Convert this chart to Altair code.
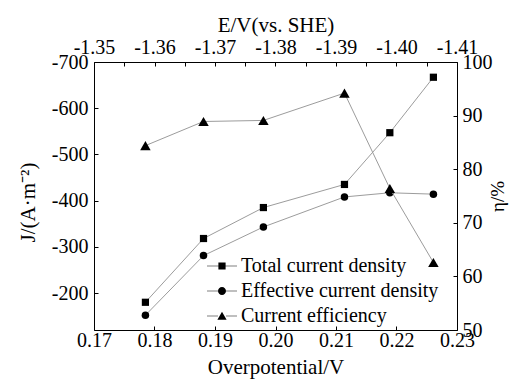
import altair as alt
import pandas as pd

# ---- data ----
overpotential = [0.1785, 0.1881, 0.1980, 0.2114, 0.2189, 0.2261]
total_J = [-180, -318, -385, -435, -547, -667]
effective_J = [-152, -281, -343, -408, -417, -414]
efficiency = [84.4, 88.9, 89.1, 94.2, 76.4, 62.6]
series_names = ["Total current density", "Effective current density", "Current efficiency"]

x_ticks = [0.17, 0.175, 0.18, 0.185, 0.19, 0.195, 0.20, 0.205, 0.21, 0.215, 0.22, 0.225, 0.23]
e_ticks = [-1.35, -1.355, -1.36, -1.365, -1.37, -1.375, -1.38, -1.385, -1.39, -1.395, -1.40, -1.405, -1.41]
j_ticks = [-700, -650, -600, -550, -500, -450, -400, -350, -300, -250, -200, -150]
eta_ticks = [50, 55, 60, 65, 70, 75, 80, 85, 90, 95, 100]

FONT = "Liberation Serif"
LINE = "#9c9c9c"

df_total = pd.DataFrame({"x": overpotential, "J": total_J, "series": series_names[0]})
df_eff = pd.DataFrame({"x": overpotential, "J": effective_J, "series": series_names[1]})
df_J = pd.concat([df_total, df_eff])
df_eta = pd.DataFrame({"x": overpotential, "eta": efficiency})
df_E = pd.DataFrame({"E": e_ticks})
df_leg = pd.DataFrame({"series": series_names})

MINUS_FIX = "replace({f}, '\u2212', '-')"

common = dict(
    tickSize=4, offset=-4, domain=False, grid=False, labelFlush=False,
    labelFont=FONT, titleFont=FONT, labelFontSize=20,
    labelColor="black", titleColor="black", tickColor="black",
    titleFontWeight="normal", tickWidth=1,
)

x_scale = alt.Scale(domain=[0.17, 0.23], nice=False, zero=False)

x_axis = alt.Axis(
    orient="bottom", values=x_ticks,
    labelExpr="abs(datum.value*100 - round(datum.value*100)) < 0.01 ? format(datum.value, '.2f') : ''",
    labelPadding=0, title="Overpotential/V", titlePadding=6, titleFontSize=21, **common,
)
j_axis = alt.Axis(
    orient="left", values=j_ticks,
    labelExpr="datum.value % 100 == 0 ? " + MINUS_FIX.format(f="format(datum.value, 'd')") + " : ''",
    labelPadding=6, title="J/(A·m⁻²)", titleAngle=270, titleBaseline="middle",
    titleX=-70, titleY=140, titleFontSize=21, **common,
)
eta_axis = alt.Axis(
    orient="right", values=eta_ticks,
    labelExpr="datum.value % 10 == 0 ? format(datum.value, 'd') : ''",
    labelPadding=5, title="η/%", titleAngle=270, titleBaseline="middle",
    titleX=44, titleY=134, titleFontSize=19, **common,
)
e_axis = alt.Axis(
    orient="top", values=e_ticks,
    labelExpr="abs(datum.value*100 - round(datum.value*100)) < 0.01 ? "
    + MINUS_FIX.format(f="format(datum.value, '.2f')") + " : ''",
    labelPadding=5, title="E/V(vs. SHE)", titlePadding=2, titleFontSize=21, **common,
)

# legend symbols: thin connector bars with the marker in the middle
leg_paths = [
    "M-3.75,-0.06H-0.9V0.06H-3.75ZM0.9,-0.06H3.75V0.06H0.9ZM-0.9,-0.9H0.9V0.9H-0.9Z",
    "M-3.75,-0.06H-1V0.06H-3.75ZM1,-0.06H3.75V0.06H1ZM1,0A1,1,0,1,0,-1,0A1,1,0,1,0,1,0Z",
    "M-3.75,-0.06H-1V0.06H-3.75ZM1,-0.06H3.75V0.06H1ZM0,-1.05L1.15,0.95H-1.15Z",
]

j_lines = alt.Chart(df_J).mark_line(color=LINE, strokeWidth=1).encode(
    x=alt.X("x:Q", scale=x_scale, axis=x_axis),
    y=alt.Y("J:Q", scale=alt.Scale(domain=[-700, -120], reverse=True, nice=False, zero=False), axis=j_axis),
    detail="series:N",
)
sq_pts = alt.Chart(df_total).mark_point(shape="square", filled=True, size=52, color="black", opacity=1).encode(
    x="x:Q", y="J:Q"
)
ci_pts = alt.Chart(df_eff).mark_point(shape="circle", filled=True, size=56, color="black", opacity=1).encode(
    x="x:Q", y="J:Q"
)
leg = alt.Chart(df_leg).mark_point(filled=True, color="black", opacity=0).encode(
    shape=alt.Shape(
        "series:N",
        scale=alt.Scale(domain=series_names, range=leg_paths),
        legend=alt.Legend(
            orient="none", legendX=118, legendY=194, title=None,
            labelFont=FONT, labelFontSize=20, labelColor="black", labelLimit=0,
            symbolSize=64, labelOffset=9, rowPadding=5, padding=0,
            symbolFillColor="black", symbolStrokeWidth=0, symbolOpacity=1,
        ),
    )
)
layer_J = alt.layer(j_lines, sq_pts, ci_pts, leg)

eta_line = alt.Chart(df_eta).mark_line(color=LINE, strokeWidth=1).encode(
    x=alt.X("x:Q", scale=x_scale, axis=None),
    y=alt.Y("eta:Q", scale=alt.Scale(domain=[50, 100], nice=False, zero=False), axis=eta_axis),
)
eta_pts = alt.Chart(df_eta).mark_point(shape="triangle-up", filled=True, size=110, color="black", opacity=1).encode(
    x="x:Q", y="eta:Q"
)
layer_eta = alt.layer(eta_line, eta_pts)

layer_E = alt.Chart(df_E).mark_point(opacity=0).encode(
    x=alt.X("E:Q", scale=alt.Scale(domain=[-1.41, -1.35], reverse=True, nice=False, zero=False), axis=e_axis),
)

chart = (
    alt.layer(layer_J, layer_eta, layer_E)
    .resolve_scale(x="independent", y="independent")
    .properties(
        width=363, height=268,
        autosize=alt.AutoSizeParams(type="none"),
        padding={"left": 94, "top": 62, "right": 54, "bottom": 51},
        background="white",
    )
    .configure_view(stroke="black", strokeWidth=1)
)

chart.save("out.html", embed_options={"renderer": "svg", "actions": False})
